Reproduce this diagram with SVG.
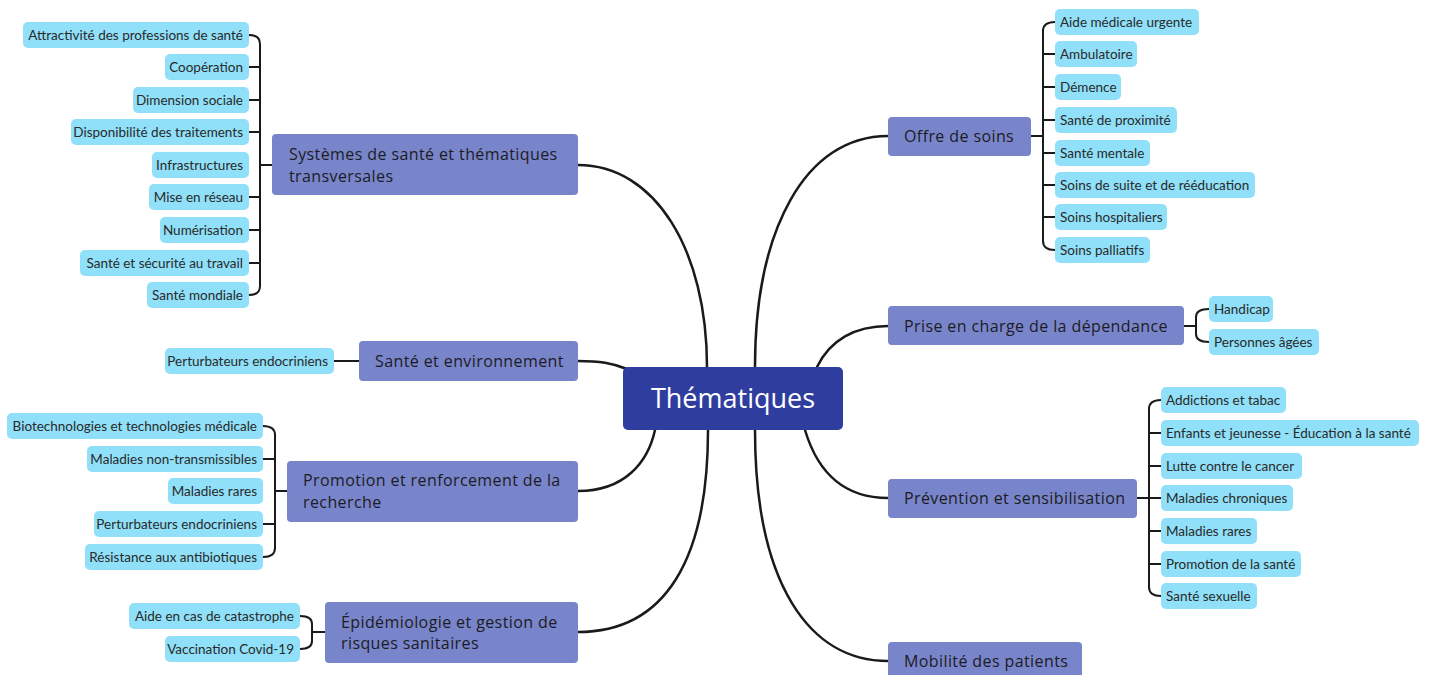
<svg xmlns="http://www.w3.org/2000/svg" width="1432" height="675" viewBox="0 0 1432 675">
<style>
.leaf rect{fill:#8fe0f8}
.leaf text{font-family:Lato,"Open Sans",sans-serif;font-size:13.5px;fill:#2a2a2a}
.main rect{fill:#7985ca}
.main text{font-family:"Open Sans",Lato,sans-serif;font-size:16px;letter-spacing:0.4px;fill:#1c1c24}
.l text{text-anchor:end}
#conn path{fill:none;stroke:#1a1a1a;stroke-width:2.5;stroke-linecap:round}
#conn .br{stroke-width:2}
</style>
<rect width="1432" height="675" fill="#ffffff"/>
<g id="conn">
<path d="M578,165 C655,165 707,250 707,367"/>
<path d="M578,361 C600,361 612,363 627,369"/>
<path d="M578,491 C625,491 648,462 655,430"/>
<path d="M578,632 C665,632 708,560 708,430"/>
<path d="M755,367 C755,230 805,136 888,136"/>
<path d="M817,367 C830,340 855,326 888,326"/>
<path d="M805,430 C820,480 850,498 888,498"/>
<path d="M755,430 C755,585 810,661 888,661"/>
<path class="br" d="M249,35 Q260,35 260,44 V286 Q260,295 249,295 M260,165 H272 M249,67 H260 M249,100 H260 M249,132 H260 M249,197 H260 M249,230 H260 M249,263 H260"/>
<path class="br" d="M334,361 H359"/>
<path class="br" d="M263,426 Q275,426 275,435 V548 Q275,557 263,557 M275,491 H287 M263,459 H275 M263,524 H275"/>
<path class="br" d="M300,616 Q312,616 312,624 V641 Q312,649 300,649 M312,632 H325"/>
<path class="br" d="M1055,22 Q1043,22 1043,31 V241 Q1043,250 1055,250 M1030,136 H1043 M1055,54 H1043 M1055,87 H1043 M1055,120 H1043 M1055,153 H1043 M1055,185 H1043 M1055,217 H1043"/>
<path class="br" d="M1209,309 Q1196,309 1196,317 V334 Q1196,342 1209,342 M1184,326 H1196"/>
<path class="br" d="M1161,400 Q1149,400 1149,409 V587 Q1149,596 1161,596 M1137,498 H1161 M1161,433 H1149 M1161,466 H1149 M1161,531 H1149 M1161,564 H1149"/>
</g>
<g id="center">
<rect x="623" y="367" width="220" height="63" rx="5" fill="#2f3e9e"/>
<text x="733" y="408" text-anchor="middle" font-family="'Open Sans',Lato,sans-serif" font-size="27" fill="#ffffff">Thématiques</text>
</g>
<g id="m-systemes" class="main"><rect x="272" y="134" width="306" height="61" rx="4"/><text x="289" y="160">Systèmes de santé et thématiques</text><text x="289" y="182">transversales</text></g>
<g id="m-env" class="main"><rect x="359" y="341" width="219" height="40" rx="4"/><text x="375" y="367">Santé et environnement</text></g>
<g id="m-recherche" class="main"><rect x="287" y="461" width="291" height="61" rx="4"/><text x="303" y="486">Promotion et renforcement de la</text><text x="303" y="508">recherche</text></g>
<g id="m-epi" class="main"><rect x="325" y="602" width="253" height="61" rx="4"/><text x="341" y="628">Épidémiologie et gestion de</text><text x="341" y="649">risques sanitaires</text></g>
<g id="m-offre" class="main"><rect x="888" y="117" width="143" height="39" rx="4"/><text x="904" y="142">Offre de soins</text></g>
<g id="m-dep" class="main"><rect x="888" y="306" width="296" height="39" rx="4"/><text x="904" y="332">Prise en charge de la dépendance</text></g>
<g id="m-prev" class="main"><rect x="888" y="479" width="249" height="39" rx="4"/><text x="904" y="504">Prévention et sensibilisation</text></g>
<g id="m-mob" class="main"><rect x="888" y="642" width="194" height="45" rx="4"/><text x="904" y="667">Mobilité des patients</text></g>
<g id="l1" class="leaf l"><rect x="23" y="22" width="226" height="26" rx="5"/><text x="243" y="39.5">Attractivité des professions de santé</text></g>
<g id="l2" class="leaf l"><rect x="165" y="54" width="84" height="26" rx="5"/><text x="243" y="71.5">Coopération</text></g>
<g id="l3" class="leaf l"><rect x="133" y="87" width="116" height="26" rx="5"/><text x="243" y="104.5">Dimension sociale</text></g>
<g id="l4" class="leaf l"><rect x="71" y="119" width="178" height="26" rx="5"/><text x="243" y="136.5">Disponibilité des traitements</text></g>
<g id="l5" class="leaf l"><rect x="152" y="152" width="97" height="26" rx="5"/><text x="243" y="169.5">Infrastructures</text></g>
<g id="l6" class="leaf l"><rect x="149" y="184" width="100" height="26" rx="5"/><text x="243" y="201.5">Mise en réseau</text></g>
<g id="l7" class="leaf l"><rect x="160" y="217" width="89" height="26" rx="5"/><text x="243" y="234.5">Numérisation</text></g>
<g id="l8" class="leaf l"><rect x="80" y="250" width="169" height="26" rx="5"/><text x="243" y="267.5">Santé et sécurité au travail</text></g>
<g id="l9" class="leaf l"><rect x="147" y="282" width="102" height="26" rx="5"/><text x="243" y="299.5">Santé mondiale</text></g>
<g id="l10" class="leaf l"><rect x="165" y="348" width="169" height="26" rx="5"/><text x="328" y="365.5">Perturbateurs endocriniens</text></g>
<g id="l11" class="leaf l"><rect x="7" y="413" width="256" height="26" rx="5"/><text x="257" y="430.5">Biotechnologies et technologies médicale</text></g>
<g id="l12" class="leaf l"><rect x="87" y="446" width="176" height="26" rx="5"/><text x="257" y="463.5">Maladies non-transmissibles</text></g>
<g id="l13" class="leaf l"><rect x="168" y="478" width="95" height="26" rx="5"/><text x="257" y="495.5">Maladies rares</text></g>
<g id="l14" class="leaf l"><rect x="94" y="511" width="169" height="26" rx="5"/><text x="257" y="528.5">Perturbateurs endocriniens</text></g>
<g id="l15" class="leaf l"><rect x="85" y="544" width="178" height="26" rx="5"/><text x="257" y="561.5">Résistance aux antibiotiques</text></g>
<g id="l16" class="leaf l"><rect x="129" y="603" width="171" height="26" rx="5"/><text x="294" y="620.5">Aide en cas de catastrophe</text></g>
<g id="l17" class="leaf l"><rect x="165" y="636" width="135" height="26" rx="5"/><text x="294" y="653.5">Vaccination Covid-19</text></g>
<g id="r1" class="leaf"><rect x="1055" y="9" width="144" height="26" rx="5"/><text x="1060" y="26.5">Aide médicale urgente</text></g>
<g id="r2" class="leaf"><rect x="1055" y="41" width="82" height="26" rx="5"/><text x="1060" y="58.5">Ambulatoire</text></g>
<g id="r3" class="leaf"><rect x="1055" y="74" width="66" height="26" rx="5"/><text x="1060" y="91.5">Démence</text></g>
<g id="r4" class="leaf"><rect x="1055" y="107" width="122" height="26" rx="5"/><text x="1060" y="124.5">Santé de proximité</text></g>
<g id="r5" class="leaf"><rect x="1055" y="140" width="95" height="26" rx="5"/><text x="1060" y="157.5">Santé mentale</text></g>
<g id="r6" class="leaf"><rect x="1055" y="172" width="200" height="26" rx="5"/><text x="1060" y="189.5">Soins de suite et de rééducation</text></g>
<g id="r7" class="leaf"><rect x="1055" y="204" width="112" height="26" rx="5"/><text x="1060" y="221.5">Soins hospitaliers</text></g>
<g id="r8" class="leaf"><rect x="1055" y="237" width="95" height="26" rx="5"/><text x="1060" y="254.5">Soins palliatifs</text></g>
<g id="r9" class="leaf"><rect x="1209" y="296" width="64" height="26" rx="5"/><text x="1214" y="313.5">Handicap</text></g>
<g id="r10" class="leaf"><rect x="1209" y="329" width="110" height="26" rx="5"/><text x="1214" y="346.5">Personnes âgées</text></g>
<g id="r11" class="leaf"><rect x="1161" y="387" width="125" height="26" rx="5"/><text x="1166" y="404.5">Addictions et tabac</text></g>
<g id="r12" class="leaf"><rect x="1161" y="420" width="258" height="26" rx="5"/><text x="1166" y="437.5">Enfants et jeunesse - Éducation à la santé</text></g>
<g id="r13" class="leaf"><rect x="1161" y="453" width="141" height="26" rx="5"/><text x="1166" y="470.5">Lutte contre le cancer</text></g>
<g id="r14" class="leaf"><rect x="1161" y="485" width="132" height="26" rx="5"/><text x="1166" y="502.5">Maladies chroniques</text></g>
<g id="r15" class="leaf"><rect x="1161" y="518" width="96" height="26" rx="5"/><text x="1166" y="535.5">Maladies rares</text></g>
<g id="r16" class="leaf"><rect x="1161" y="551" width="140" height="26" rx="5"/><text x="1166" y="568.5">Promotion de la santé</text></g>
<g id="r17" class="leaf"><rect x="1161" y="583" width="96" height="26" rx="5"/><text x="1166" y="600.5">Santé sexuelle</text></g>
</svg>
